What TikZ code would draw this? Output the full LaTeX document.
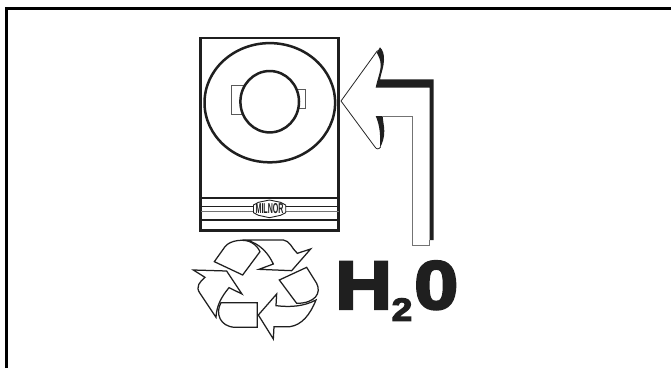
\documentclass[tikz,border=0pt]{standalone}
\usepackage{fontspec}
\setmainfont{Liberation Sans}
\newfontfamily\heavyfont[FakeBold=4,FakeStretch=1.16]{Liberation Sans Bold}
\newfontfamily\logofont[FakeStretch=.62]{Liberation Sans Bold}
\definecolor{ink}{gray}{.12}
\tikzset{
 thickline/.style={draw=ink,line width=2.5pt},
 thinline/.style={draw=ink,line width=.9pt},
 tabline/.style={draw=black!65,line width=.8pt,fill=white},
 recy/.style={draw=ink,line width=1.25pt,fill=white,line join=miter},
}
\begin{document}
\begin{tikzpicture}[x=1pt,y=-1pt]
\useasboundingbox (0,0) rectangle (671,368);
\fill[white] (0,0) rectangle (671,368);
\draw[line width=3.3pt] (6.3,368) -- (6.3,8.3) -- (671,8.3);
% machine
\draw[thickline] (200.5,38) rectangle (338.7,230.5);
\draw[thickline] (269.8,102.7) circle [x radius=65.3,y radius=59.6];
\draw[tabline] (231.5,85.7) rectangle (260,114.7);
\draw[tabline] (285,89.3) rectangle (305.3,108.7);
\draw[thickline,fill=white] (269.7,101.7) circle [x radius=29.3,y radius=30.7];
\draw[thickline] (200.5,197.8) -- (338.7,197.8);
\draw[thinline] (200.5,206) -- (338.7,206);
\draw[draw=black!55,line width=.9pt] (200.5,211.5) -- (338.7,211.5);
\draw[thickline] (200.5,219.8) -- (338.7,219.8);
% logo
\draw[thinline,fill=white,line join=round] (253.5,205) -- (258.5,202.3) -- (269.5,200) -- (280.5,202.3) -- (285.7,205) -- (285.7,212.7) -- (280.5,215.3) -- (269.5,217.7) -- (258.5,215.3) -- (253.5,212.7) -- cycle;
\node[inner sep=0pt,text=ink] (logo) at (269.6,208.9) {\resizebox{28pt}{10pt}{\logofont MILNOR}};
% inlet arrow
\draw[black!85,line width=.8pt,line join=round] (377.5,50.5) -- (341,101) -- (375,147) .. controls (376.5,149.5) and (379,149.5) .. (380.5,147);
\fill[ink] (375.7,87.7) .. controls (377,80) and (380.7,72) .. (380.7,65) .. controls (380.7,60) and (378.5,56) .. (376.7,52.7) -- (380,47.3) .. controls (383,50) and (384.3,55) .. (384,60) .. controls (383.8,67) and (381.5,72) .. (380,79.3) -- (433.5,79.3) -- (433.5,240) -- (429.5,240) -- (429.5,87.7) -- cycle;
\fill[ink] (375.7,116) -- (382.7,116) .. controls (383,122) and (384.3,126) .. (384.3,131) .. controls (384.3,138) and (382.5,143) .. (380,147.8) .. controls (380.5,140) and (380,131) .. (379,126.7) .. controls (378.3,123) and (377,119) .. (375.7,116) -- cycle;
\draw[black!55,line width=1pt] (382,116.6) -- (412.8,116.6) -- (412.8,245.7) -- (429.5,245.7) -- (429.5,240);
% recycling symbol, in 1/3 px units
\begin{scope}[shift={(180,190)},x=.3333pt,y=-.3333pt]
\path[recy] (103,215) -- (135,170) .. controls (150,150) and (195,145) .. (215,158) .. controls (228,165) and (235,175) .. (240,185) -- (188,255) -- cycle;
\path[recy] (198,150) -- (310,150) .. controls (330,152) and (335,175) .. (352,190) -- (392,177) -- (335,242) -- (237,238) -- (280,222) .. controls (265,190) and (240,160) .. (198,150) -- cycle;
\path[recy] (298,270) -- (380,232) -- (410,280) .. controls (425,310) and (405,340) .. (350,340) -- cycle;
\path[recy] (408,330) .. controls (390,375) and (365,405) .. (330,410) -- (282,410) -- (280,447) -- (235,375) -- (290,312) -- (288,347) .. controls (330,352) and (370,350) .. (408,330) -- cycle;
\path[recy] (123,338) -- (232,338) -- (232,412) -- (165,412) .. controls (120,410) and (105,370) .. (123,338) -- cycle;
\path[recy] (40,240) -- (140,243) -- (186,312) -- (147,293) .. controls (125,320) and (110,345) .. (108,382) -- (60,310) .. controls (45,290) and (60,275) .. (75,262) -- cycle;
\end{scope}
% label
\node[inner sep=0pt,anchor=base west,text=ink,font=\heavyfont\fontsize{68}{68}\selectfont] (water) at (335,308.7)
 {H\kern-.5pt\raisebox{-12pt}{\fontsize{32}{32}\selectfont 2}\kern2pt 0};
\end{tikzpicture}
\end{document}
